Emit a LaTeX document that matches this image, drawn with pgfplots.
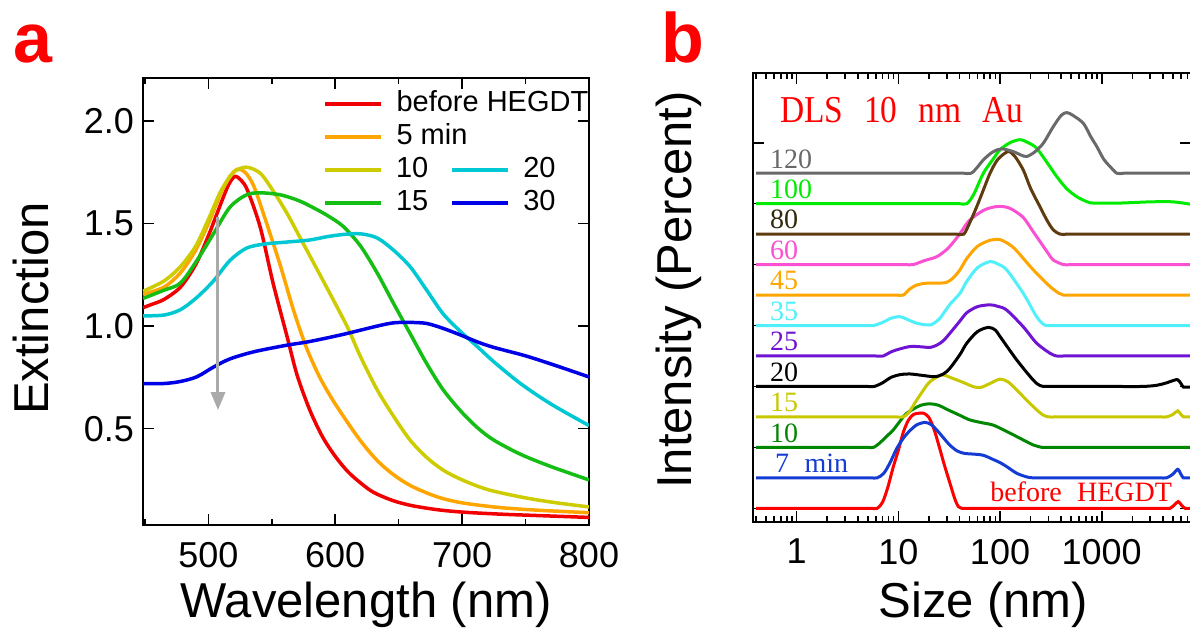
\documentclass[border=0pt]{standalone}
\usepackage{fontspec}
\setmainfont{Liberation Sans}
\newfontfamily\serifb[WordSpace=2.2]{Liberation Serif}
\newfontfamily\seriftitle[WordSpace=2.5,FakeStretch=0.88]{Liberation Serif}
\usepackage{pgfplots}
\pgfplotsset{compat=1.18}
\usetikzlibrary{arrows.meta}

\definecolor{cRed}{RGB}{240,0,0}
\definecolor{cOrange}{RGB}{255,165,0}
\definecolor{cYellow}{RGB}{204,204,0}
\definecolor{cGreen}{RGB}{20,190,20}
\definecolor{cCyan}{RGB}{0,200,210}
\definecolor{cBlue}{RGB}{0,0,230}
\definecolor{cArrow}{RGB}{170,170,170}

\definecolor{bA}{RGB}{255,0,0}
\definecolor{bB}{RGB}{20,60,210}
\definecolor{bC}{RGB}{0,135,0}
\definecolor{bD}{RGB}{200,200,0}
\definecolor{bE}{RGB}{0,0,0}
\definecolor{bF}{RGB}{110,20,210}
\definecolor{bG}{RGB}{80,240,250}
\definecolor{bH}{RGB}{255,165,0}
\definecolor{bI}{RGB}{250,80,210}
\definecolor{bJ}{RGB}{95,60,15}
\definecolor{bK}{RGB}{0,235,0}
\definecolor{bL}{RGB}{105,105,105}
\definecolor{bJt}{RGB}{50,40,10}

\pgfplotsset{
  common/.style={
    scale only axis,
    axis line style={line width=2pt},
    every tick/.style={black, line width=1.6pt},
    major tick length=11pt,
    minor tick length=6pt,
    tick align=inside,
    ticklabel style={font=\fontsize{36}{40}\selectfont, inner sep=0pt},
    /pgf/number format/assume math mode=true,
    label style={font=\fontsize{49}{54}\selectfont},
    xticklabel style={yshift=-17pt},
  }
}

\begin{document}
\begin{tikzpicture}[x=1pt,y=1pt]
\useasboundingbox (0,0) rectangle (1190,635);

% ---------------- panel a ----------------
\begin{axis}[common,
  at={(143pt,110pt)}, anchor=south west,
  width=446pt, height=447pt,
  xmin=448.5, xmax=800, ymin=0.03, ymax=2.21,
  xtick={500,600,700,800}, minor xtick={450,550,650,750},
  ytick={0.5,1.0,1.5,2.0},
  yticklabel style={xshift=-9pt, /pgf/number format/.cd, fixed, fixed zerofill, precision=1},
  xlabel={Wavelength (nm)}, ylabel={Extinction},
  xlabel style={at={(axis description cs:0.5,-0.207)}, anchor=base},
  ylabel style={at={(axis description cs:-0.213,0.484)}, anchor=base},
  legend columns=2,
  legend cell align=left,
  legend image code/.code={\draw[#1, line width=4pt] (0pt,0pt) -- (56pt,0pt);},
  legend style={draw=none, fill=none, at={(0.4036,0.971)}, anchor=north west,
    font=\fontsize{29}{33}\selectfont, inner sep=0pt, outer sep=0pt,
    column sep=13pt, row sep=6pt,
    nodes={inner sep=0pt, text height=21pt, text depth=6pt},
    /tikz/every even column/.append style={column sep=22pt}},
  every axis plot/.append style={line width=3.5pt, smooth, tension=0.5},
]
% before HEGDT
\addplot[cRed, forget plot] coordinates {(448.5,1.09) (455,1.105) (465,1.13) (478,1.19) (490,1.30) (500,1.44) (510,1.60) (516,1.69) (521,1.73) (526,1.71) (531,1.66) (541,1.48) (551,1.21) (562,0.95) (570,0.76) (580,0.59) (590,0.46) (600,0.365) (610,0.29) (620,0.235) (630,0.19) (645,0.15) (660,0.125) (680,0.105) (700,0.093) (730,0.083) (760,0.076) (800,0.067)};
% 5 min
\addplot[cOrange, forget plot] coordinates {(448.5,1.155) (465,1.19) (478,1.26) (490,1.37) (500,1.50) (510,1.65) (517,1.73) (523,1.765) (529,1.75) (536,1.68) (546,1.50) (557,1.29) (567,1.08) (577,0.90) (587,0.76) (597,0.65) (607,0.555) (620,0.44) (633,0.345) (646,0.275) (660,0.22) (680,0.168) (700,0.138) (730,0.115) (760,0.102) (800,0.09)};
% 10
\addplot[cYellow, forget plot] coordinates {(448.5,1.17) (465,1.22) (478,1.29) (490,1.39) (500,1.52) (510,1.66) (520,1.75) (530,1.775) (541,1.745) (551,1.66) (562,1.55) (575,1.40) (588,1.25) (600,1.11) (610,0.99) (620,0.85) (633,0.69) (646,0.56) (659,0.444) (672,0.36) (685,0.298) (700,0.25) (720,0.203) (746,0.167) (770,0.142) (800,0.118)};
% 15
\addplot[cGreen, forget plot] coordinates {(448.5,1.135) (465,1.175) (478,1.21) (491,1.32) (504,1.45) (517,1.58) (530,1.64) (541,1.65) (557,1.64) (572,1.61) (585,1.57) (595,1.535) (606.5,1.485) (620,1.39) (633,1.26) (646,1.11) (659,0.964) (672,0.818) (685,0.69) (699,0.585) (712,0.505) (725,0.444) (746,0.375) (770,0.315) (800,0.25)};
% 20
\addplot[cCyan, forget plot] coordinates {(448.5,1.05) (465,1.054) (478,1.08) (491,1.14) (504,1.22) (517,1.32) (530,1.38) (544,1.40) (562,1.41) (580,1.42) (593.5,1.436) (606.5,1.447) (620,1.45) (633,1.43) (646,1.37) (659,1.29) (672,1.176) (685,1.06) (699,0.972) (712,0.90) (725,0.826) (746,0.72) (770,0.62) (800,0.515)};
% 30
\addplot[cBlue, forget plot] coordinates {(448.5,0.72) (465,0.72) (478,0.73) (491,0.753) (504,0.80) (517,0.84) (536,0.875) (562,0.907) (580,0.925) (606.5,0.96) (633,1.0) (646,1.016) (659,1.018) (672,1.013) (685,0.989) (699,0.956) (712,0.923) (725,0.896) (750,0.855) (775,0.805) (800,0.752)};
% arrow
\addplot[cArrow, line width=3pt, sharp plot, forget plot, -{Triangle[width=14pt,length=18pt]}] coordinates {(507.6,1.533) (507.6,0.59)};

\addlegendimage{cRed}\addlegendentry{\makebox[0pt][l]{before HEGDT}}
\addlegendimage{empty legend}\addlegendentry{}
\addlegendimage{cOrange}\addlegendentry{\makebox[0pt][l]{5 min}}
\addlegendimage{empty legend}\addlegendentry{}
\addlegendimage{cYellow}\addlegendentry{10}
\addlegendimage{cCyan}\addlegendentry{20}
\addlegendimage{cGreen}\addlegendentry{15}
\addlegendimage{cBlue}\addlegendentry{30}
\end{axis}

% ---------------- panel b ----------------
\begin{axis}[common,
  at={(752.7pt,113.3pt)}, anchor=south west,
  width=438.3pt, height=449pt,
  xmode=log, xmin=0.37, xmax=7550, ymin=-0.44, ymax=14.3,
  xtick={1,10,100,1000}, xticklabels={1,10,100,1000},
  minor xtick={0.4,0.5,0.6,0.7,0.8,0.9,2,3,4,5,6,7,8,9,20,30,40,50,60,70,80,90,200,300,400,500,600,700,800,900,2000,3000,4000,5000,6000,7000},
  ytick={0,2,4,6,8,10,12}, yticklabels={},
  xlabel={Size (nm)}, ylabel={Intensity (Percent)},
  xlabel style={at={(axis description cs:0.526,-0.214)}, anchor=base},
  ylabel style={at={(axis description cs:-0.1386,0.516)}, anchor=base},
  every axis plot/.append style={line width=3pt, smooth, tension=0.5},
]
\addplot[bA] coordinates {(0.4,0) (1.6,0) (3.2,0) (4.5,0) (5.4,0) (6.2,0) (7.0,0.2) (7.9,0.7) (8.9,1.35) (10,1.9) (11.2,2.5) (12.6,2.9) (14.1,3.08) (15.8,3.12) (17.8,3.12) (20,2.98) (22.4,2.6) (25.1,2.05) (28.2,1.45) (32.2,0.82) (36,0.3) (39,0.05) (42,0) (49,0) (60,0) (88,0) (180,0) (500,0) (1200,0) (2400,0) (3350,0) (4000,0) (4700,0) (5200,0.12) (5650,0.22) (6100,0.1) (6600,0) (7100,0) (7500,0)};
\addplot[bB] coordinates {(0.4,1) (1.6,1) (3.2,1) (4.5,1) (5.4,1) (6.2,1) (7.2,1.15) (8.3,1.5) (9.6,1.95) (11.2,2.3) (13,2.55) (15.2,2.74) (18.3,2.82) (21,2.75) (23.9,2.57) (28,2.3) (32.2,2.07) (38,1.88) (45,1.8) (54.6,1.78) (68.6,1.74) (85.9,1.6) (100,1.5) (116,1.37) (146,1.15) (183,1.03) (210,1.0) (245,1.0) (300,1) (420,1) (800,1) (1600,1) (3000,1) (3700,1) (4350,1) (5000,1.12) (5590,1.28) (6000,1.12) (6340,1) (6800,1) (7500,1)};
\addplot[bC] coordinates {(0.4,2) (1.6,2) (3.2,2) (4.3,2) (5.0,2) (5.7,2) (6.6,2.15) (7.6,2.35) (8.9,2.57) (10.5,2.88) (12.1,3.12) (16.3,3.37) (20.5,3.43) (25,3.38) (30,3.25) (40.4,3.05) (50.7,2.9) (68.6,2.8) (86,2.73) (120,2.5) (157,2.3) (212,2.08) (260,2.0) (300,2.0) (400,2) (800,2) (2000,2) (7500,2)};
\addplot[bD] coordinates {(0.4,3) (1.4,3) (2.8,3) (5.6,3) (7.9,3) (9.6,3) (11.2,3) (12.7,3.15) (15.2,3.56) (18,3.92) (20.5,4.16) (26.7,4.38) (32.2,4.3) (43.6,4.13) (55,3.99) (65,3.97) (80,4.1) (100,4.24) (120,4.15) (146,3.88) (212,3.34) (260,3.08) (300,3.0) (350,3.0) (420,3) (600,3) (1200,3) (2400,3) (3200,3) (3800,3) (4350,3) (5000,3.08) (5590,3.2) (6000,3.08) (6340,3) (6800,3) (7500,3)};
\addplot[bE] coordinates {(0.4,4) (1.6,4) (3.2,4) (4.3,4) (5.0,4) (5.8,4) (7,4.12) (8.5,4.3) (10.5,4.39) (13,4.41) (17.6,4.36) (23,4.32) (28,4.42) (32.2,4.6) (40.4,5.05) (47.1,5.42) (60,5.8) (77,5.94) (90,5.85) (100,5.64) (146,4.87) (212,4.21) (247,4.03) (280,4) (330,4) (400,4) (600,4) (1200,4) (2500,4) (3500,4.04) (4350,4.12) (5100,4.2) (5590,4.22) (6000,4.1) (6340,3.98) (6800,3.98) (7500,3.98)};
\addplot[bF] coordinates {(0.4,5) (1.8,5) (3.6,5) (5.0,5) (6.0,5) (7.1,5) (8.3,5.12) (9.6,5.2) (13,5.31) (17,5.3) (20.5,5.28) (24,5.36) (27.7,5.5) (32.2,5.75) (40.4,6.15) (47.1,6.42) (60,6.62) (79.8,6.68) (95,6.63) (116,6.51) (169,5.96) (229,5.42) (310,5.09) (360,5.0) (420,5.0) (500,5) (720,5) (1500,5) (7500,5)};
\addplot[bG] coordinates {(0.4,6) (1.5,6) (3.0,6) (4.3,6) (5.0,6) (5.7,6) (7.0,6.1) (8.5,6.24) (10.4,6.29) (12.3,6.2) (15,6.08) (20.5,6.02) (25,6.2) (28.5,6.45) (32.2,6.7) (40.4,7.06) (47.1,7.45) (60,7.9) (79.8,8.1) (95,8.02) (116,7.83) (169,7.06) (229,6.29) (270,6.03) (300,6.0) (350,6) (420,6) (600,6) (1200,6) (7500,6)};
\addplot[bH] coordinates {(0.4,7) (1.4,7) (2.8,7) (5.6,7) (7.9,7) (9.6,7) (11.2,7) (13,7.2) (15.2,7.33) (19,7.39) (24,7.39) (30,7.42) (35,7.58) (40.4,7.83) (47.1,8.2) (60,8.6) (80,8.8) (100,8.82) (125,8.65) (146,8.45) (212,7.83) (310,7.28) (380,7.06) (420,7.0) (490,7) (590,7) (840,7) (1700,7) (7500,7)};
\addplot[bI] coordinates {(0.4,8) (1.7,8) (3.4,8) (6.8,8) (9.6,8) (11.8,8) (14.0,8) (18,8.13) (23.9,8.26) (30,8.5) (36,8.8) (42,9.1) (50,9.45) (68.6,9.78) (90,9.9) (110,9.9) (130,9.82) (169,9.55) (210,9.1) (247,8.76) (300,8.35) (334,8.15) (419,8.0) (490,8) (590,8) (840,8) (1700,8) (7500,8)};
\addplot[bJ] coordinates {(0.4,9) (1.4,9) (2.8,9) (5.5,9) (11,9) (22,9) (31,9) (37.5,9) (44,9) (50,9.35) (59,9.9) (68.6,10.45) (79.8,11.0) (95,11.45) (120,11.71) (140,11.55) (169,11.11) (200,10.5) (247,9.9) (290,9.45) (334,9.14) (389,9.0) (455,9) (545,9) (780,9) (1560,9) (7500,9)};
\addplot[bK] coordinates {(0.4,10) (1.5,10) (3,10) (6,10) (12,10) (24,10) (33,10) (40,10) (47.1,10) (55,10.3) (68.6,11.0) (85,11.45) (100,11.77) (125,12.0) (157,12.1) (190,12.0) (229,11.82) (290,11.35) (361,10.89) (450,10.5) (568,10.23) (700,10.08) (826,10.02) (1500,10.02) (3000,10.06) (5000,10.06) (7500,9.98)};
\addplot[bL] coordinates {(0.4,11) (1.6,11) (3.2,11) (6.5,11) (13,11) (26,11) (37,11) (44,11) (52,11) (60,11.2) (68.6,11.44) (85,11.7) (104,11.8) (135,11.71) (160,11.6) (183,11.55) (220,11.7) (267,11.99) (334,12.53) (400,12.9) (453,12.99) (520,12.9) (659,12.64) (780,12.2) (893,11.88) (1050,11.45) (1208,11.22) (1406,11.0) (1650,11) (2000,11) (2800,11) (5600,11) (7500,11)};

\begin{scope}[font=\serifb\fontsize{28}{30}\selectfont]
\node[anchor=base west, text=bL, inner sep=0pt] at (axis cs:0.547,11.17) {120};
\node[anchor=base west, text=bK, inner sep=0pt] at (axis cs:0.547,10.17) {100};
\node[anchor=base west, text=bJt, inner sep=0pt] at (axis cs:0.547,9.17) {80};
\node[anchor=base west, text=bI, inner sep=0pt] at (axis cs:0.547,8.17) {60};
\node[anchor=base west, text=bH, inner sep=0pt] at (axis cs:0.547,7.17) {45};
\node[anchor=base west, text=bG, inner sep=0pt] at (axis cs:0.547,6.17) {35};
\node[anchor=base west, text=bF, inner sep=0pt] at (axis cs:0.547,5.17) {25};
\node[anchor=base west, text=bE, inner sep=0pt] at (axis cs:0.547,4.17) {20};
\node[anchor=base west, text=bD, inner sep=0pt] at (axis cs:0.547,3.17) {15};
\node[anchor=base west, text=bC, inner sep=0pt] at (axis cs:0.547,2.17) {10};
\node[anchor=base west, text=bB, inner sep=0pt] at (axis cs:0.613,1.17) {7 min};
\node[anchor=base west, text=bA, inner sep=0pt] at (axis cs:79.8,0.21) {before HEGDT};
\end{scope}
\node[anchor=base west, text=bA, inner sep=0pt, font=\seriftitle\fontsize{38}{40}\selectfont] at (axis cs:0.684,12.65) {DLS 10 nm Au};
\end{axis}

\node[anchor=base west, inner sep=0pt, text=red, font=\fontsize{70}{70}\selectfont\bfseries] at (13,572) {a};
\node[anchor=base west, inner sep=0pt, text=red, font=\fontsize{70}{70}\selectfont\bfseries] at (661,572) {b};
\end{tikzpicture}
\end{document}
